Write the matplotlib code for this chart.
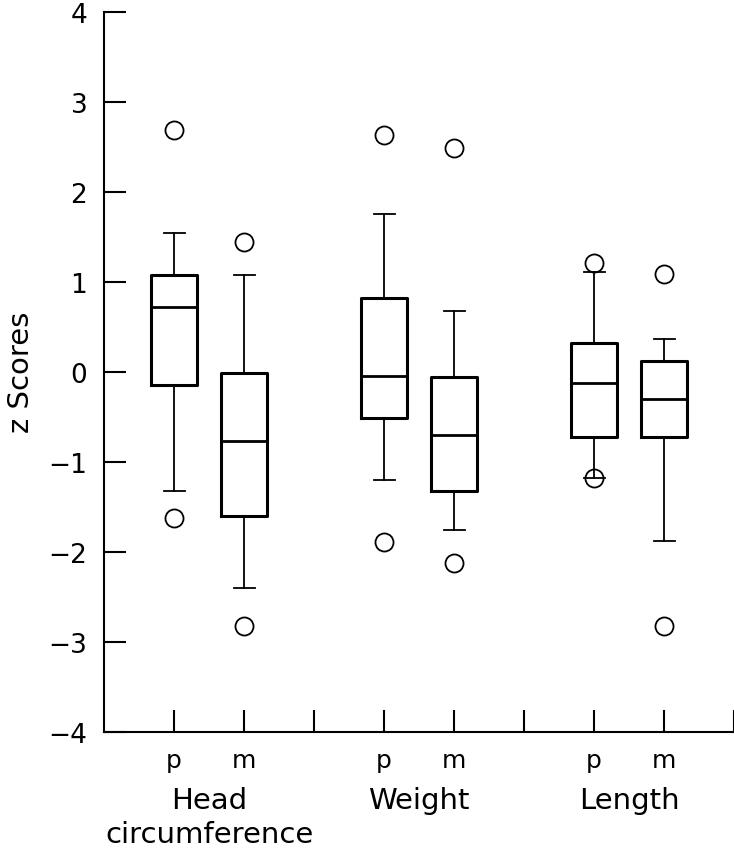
import matplotlib
matplotlib.use("Agg")
import matplotlib.pyplot as plt

# box statistics (z scores)
labels = ["p", "m", "p", "m", "p", "m"]
positions = [1, 2, 4, 5, 7, 8]
whislo = [-1.33, -2.40, -1.20, -1.76, -1.18, -1.88]
q1 = [-0.15, -1.60, -0.51, -1.32, -0.73, -0.73]
med = [0.72, -0.77, -0.05, -0.70, -0.13, -0.30]
q3 = [1.07, -0.01, 0.82, -0.06, 0.32, 0.12]
whishi = [1.54, 1.08, 1.75, 0.68, 1.11, 0.36]
fliers = [[2.69, -1.62], [1.44, -2.83], [2.63, -1.89],
          [2.49, -2.12], [1.21, -1.18], [1.09, -2.82]]
groups = ["Head\ncircumference", "Weight", "Length"]
group_pos = [1.5, 4.5, 7.5]

stats = []
for i in range(len(labels)):
    stats.append(dict(whislo=whislo[i], q1=q1[i], med=med[i], q3=q3[i],
                      whishi=whishi[i], fliers=fliers[i]))

fig = plt.figure(figsize=(7.34, 8.53), dpi=100)
ax = fig.add_axes([0.1417, 0.141, 0.8583, 0.844])

ax.bxp(stats, positions=positions, widths=0.66, showfliers=True,
       boxprops=dict(color="black", linewidth=2.2),
       medianprops=dict(color="black", linewidth=2.0),
       whiskerprops=dict(color="black", linewidth=1.3),
       capprops=dict(color="black", linewidth=1.3),
       capwidths=0.3,
       flierprops=dict(marker="o", markersize=13, markerfacecolor="none",
                       markeredgecolor="black", markeredgewidth=1.3))

ax.set_xlim(0, 9)
ax.set_ylim(-4, 4)
ax.spines["top"].set_visible(False)
ax.spines["right"].set_visible(False)
for s in ["left", "bottom"]:
    ax.spines[s].set_linewidth(1.5)

ax.set_yticks(range(-4, 5))
ax.set_yticklabels(["\u22124", "\u22123", "\u22122", "\u22121", "0", "1", "2", "3", "4"])
ax.set_xticks(range(1, 10))
ax.set_xticklabels(["p", "m", "", "p", "m", "", "p", "m", ""])
ax.tick_params(axis="both", direction="in", length=16, width=1.5)
ax.tick_params(axis="y", labelsize=19, pad=12)
ax.tick_params(axis="x", labelsize=18, pad=12)

ax.set_ylabel("z Scores", fontsize=21, labelpad=10)

for g, gx in zip(groups, group_pos):
    ax.text(gx, -4.6, g, ha="center", va="top", fontsize=21,
            linespacing=1.3, transform=ax.transData, clip_on=False)

fig.savefig("out.png", dpi=100)
